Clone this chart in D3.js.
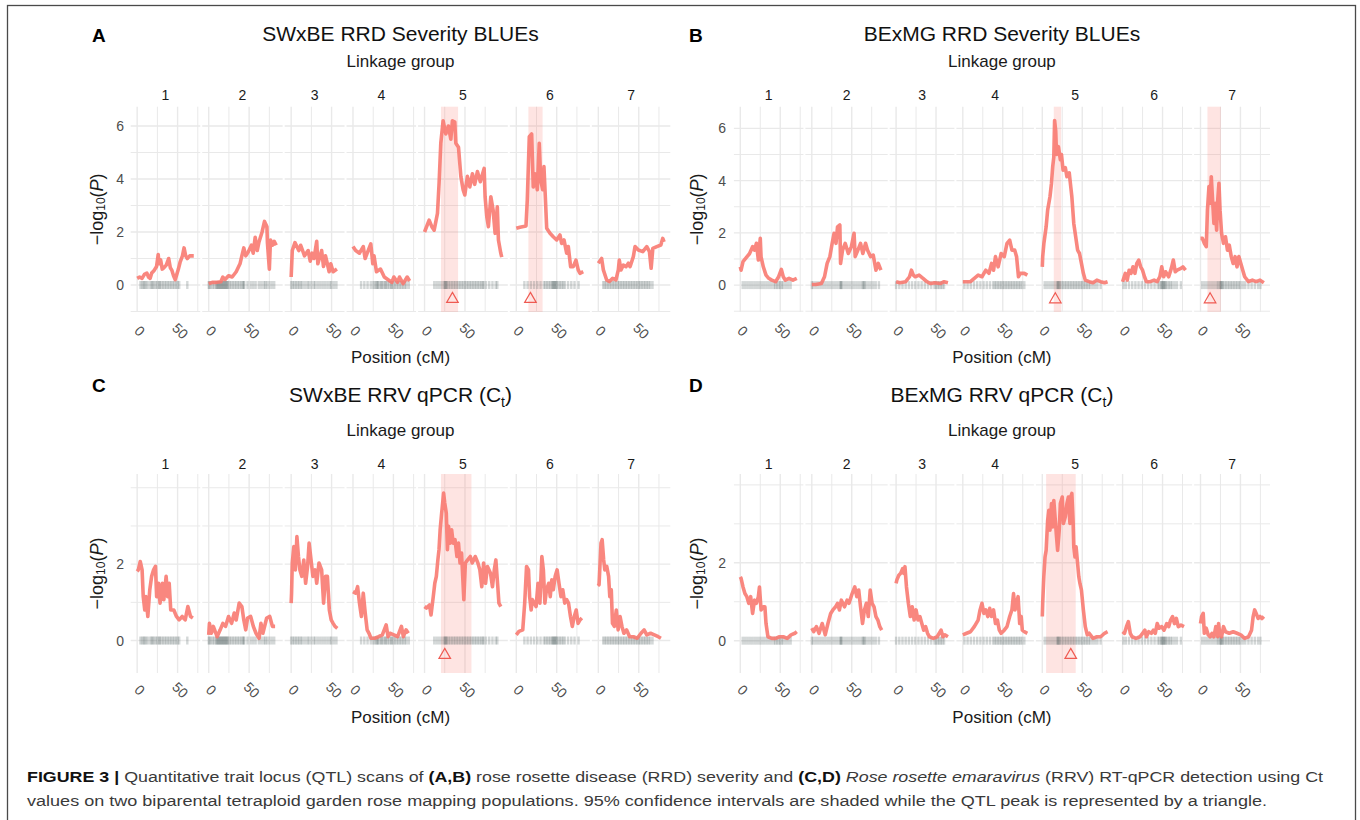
<!DOCTYPE html>
<html><head><meta charset="utf-8">
<script src="https://cdn.jsdelivr.net/npm/d3@7"></script>
<style>body{margin:0;background:#fff} svg{display:block;font-family:"Liberation Sans",Arial,sans-serif}</style>
</head><body><svg id="fig" width="1360" height="820"></svg>
<script>
// ---------------- DATA ----------------
const lgNames = ["1","2","3","4","5","6","7"];
const lenSWxBE = [70, 83.5, 58, 70, 95, 83, 81];
const lenBExMG = [71, 87, 65, 81, 82, 79, 79];
const xTickVals = [0, 50];

const markersSWxBE = [
 [4,6,8,9,11,13,16,18,19,21,23,25,27,28,30,32,34,36,38,40,42,44,46,48,50,52,62],
 [0,1,3,5,7,9,10,11,12,13,14,15,16,17,18,19,20,21,22,23,24,26,28,30,32,34,36,38,40,42,43,44,48,52,55,58,62,65,68,70,72,75,78,81],
 [0,2,4,6,8,10,12,14,17,20,22,25,28,30,33,36,39,42,45,48,50,53,56],
 [10,14,18,22,25,27,29,30,31,33,35,36,38,40,41,43,45,47,48,50,52,54,56,58,60,62,64,66,69],
 [12,15,18,21,24,25,26,27,28,30,32,34,36,38,40,42,44,46,48,50,52,54,56,58,60,62,64,66,68,70,72,73,76,80,84,88,90],
 [10,14,18,22,26,30,34,36,38,40,42,44,45,46,47,48,49,50,52,54,56,58,60,64,68,72,77],
 [6,8,10,12,14,16,18,20,22,24,26,28,30,32,34,36,38,40,42,44,46,48,50,52,54,56,58,60,62,64,67]
];
const markersBExMG = [
 [3,6,9,12,15,18,21,24,27,30,33,36,39,42,44,46,48,50,52,54,57,60,63],
 [0,2,5,8,11,14,17,20,23,26,29,32,35,36,37,38,41,44,47,50,53,56,59,62,64,65,66,68,71,74,77,80,84],
 [0,4,8,12,16,20,24,28,32,36,40,44,48,50,52,54,56,58,60],
 [2,6,10,14,18,22,26,30,34,38,40,42,44,46,48,50,52,54,56,58,60,62,64,66,68,70,72,74,77],
 [3,6,9,12,15,18,19,20,21,22,24,26,28,30,32,34,36,38,40,42,44,46,48,50,52,54,56,58,60,63,66,69,73],
 [1,4,8,12,16,20,24,28,32,36,40,44,46,48,49,50,51,52,53,54,56,58,60,62,65,68,73],
 [2,5,8,11,14,17,20,22,24,25,26,27,28,30,32,34,36,38,40,42,44,46,48,50,53,56,60,64,68,72,75]
];

// Panel A: SWxBE RRD severity
const scanApos = [
 [0,3,6,9,12,14,16,18,21,24,26,27,29,31,33,36,39,41,43,45,47,49,51,53,56,58,60,62,65,70],
 [0,5,10,15,17.5,20,24.5,29,34,38.7,41,43.4,45.8,49,52.8,55,57.5,60,62,66,69,72,72.6,75,76.4,78.8,81,83.5],
 [0,1.4,4.7,9.4,11.8,16.5,21,23.6,26,28.3,31.6,33,37.7,40,42.5,47,49,51.9,56.6],
 [0,3.3,8,12.7,15,22,24.5,26,29,34,38.7,43.4,48,50.5,55,57.5,62,67,70],
 [0,5.7,9,11.9,16,18,20.1,23,26.3,29.5,32.5,34.5,37.4,38.7,42,44.9,47.7,49.8,53,56,59.2,62,65.4,69,73.7,74.9,77,79,82,84.8,87.3,90,91.4,94.3,95.5],
 [0,4.6,12,13.6,16.1,19,21,23.1,26,28.4,30.2,32.6,34.2,35.9,37.6,41.7,45.7,49.9,54,56.1,59,62.3,64.3,67.2,70.5,73.8,76.6,78.7,82.8],
 [0,4.1,6.2,10.3,13.6,17.7,21.8,24.7,25.9,28,30.9,34.2,37.1,39.2,43.3,45.4,49.5,55,59.9,63.2,65.3,67.4,72.3,77.3,79.7,81.3]
];
const scanAval = [
 [0.25,0.3,0.25,0.4,0.45,0.3,0.25,0.45,0.55,0.7,1.15,0.8,0.95,0.6,0.65,0.75,1.0,0.65,0.55,0.35,0.2,0.4,0.6,0.85,1.1,1.4,1.1,1.0,1.1,1.1],
 [0.05,0.1,0.1,0.12,0.3,0.2,0.35,0.3,0.5,0.8,1.1,1.4,1.1,1.25,1.5,1.2,1.8,1.3,1.6,2.0,2.4,2.2,1.6,0.6,1.7,1.5,1.65,1.5],
 [0.3,1.3,1.6,1.3,1.5,1.1,1.3,0.9,1.2,1.0,1.65,0.8,1.3,0.7,1.1,0.5,0.8,0.5,0.6],
 [1.45,1.3,1.2,1.45,1.0,1.55,0.8,1.1,0.5,0.6,0.3,0.2,0.1,0.3,0.1,0.3,0.05,0.3,0.15],
 [2.0,2.45,2.2,2.07,2.7,3.84,5.35,6.2,5.7,6.0,5.5,6.2,6.15,5.35,5.2,4.1,3.6,3.4,4.1,3.7,4.2,3.8,4.28,3.9,4.4,3.33,2.58,2.2,3.33,2.83,1.95,2.95,1.7,1.2,1.05],
 [2.14,2.18,2.23,3.2,5.6,5.7,3.7,4.2,3.6,5.35,3.96,3.6,4.47,3.33,2.14,1.95,1.82,1.7,1.89,1.57,1.7,1.2,1.45,0.69,0.69,0.94,0.57,0.44,0.5],
 [0.82,1.0,0.57,0.19,0.13,0.25,0.19,0.57,0.94,0.57,0.75,0.69,0.82,0.69,1.07,1.45,1.32,1.26,1.45,1.26,0.63,1.38,1.45,1.51,1.76,1.63]
];
const ciA = [{lg:5, lo:20.3, hi:41.5, peak:34.5, peakY:-0.53}, {lg:6, lo:15, hi:32.5, peak:17.5, peakY:-0.53}];

// Panel B: BExMG RRD severity
const scanBpos = [
 [0,1,3.4,8.2,11.5,15.4,17.8,20.2,22.6,25,26,28.8,32.2,35.6,39.4,44.2,48,51.4,53.8,56.3,61,65.9,70.7],
 [0,4.8,12,15.9,19.2,22.6,25.5,27.9,30.3,32.2,35.1,36,38.5,41.8,45.7,49.5,52.9,54.3,57.7,61,63.9,67.3,69.7,73.6,76.9,80.3,83.2,86.5],
 [0,4.8,12,16.8,19.2,21.6,24,28.8,33.7,38.5,43.3,48,55.3,60,64.9],
 [0,9.6,14.4,19.2,24,28.8,32.7,36,38.5,40.9,44.2,48,51.9,55.3,58.7,61.5,64.9,67.3,69.7,72.1,76.9,80.8],
 [0,0.5,2,4.8,6.7,9.6,11.5,13,14.4,15.4,16.8,17.8,20.2,22.6,24,26,28.8,30.8,33.7,35.6,37,39.4,41.8,44.2,46.6,49,51.4,53.8,58.7,63.5,68.3,73,77.9,81.7],
 [0,3.4,5.8,8.2,10.6,13,15.4,17.8,20.2,22.6,25,27.4,29.8,34.6,39.4,43.3,46.6,49,51.4,53.8,57.7,61,63.5,65.9,68.3,73,75.5,78.8],
 [0,2.4,4.8,7.2,8.7,10.6,12,13.5,14.9,16.8,18.3,20.2,21.6,23.1,24.5,26.4,28.8,31.3,33.7,36,38.5,40.9,43.3,45.7,48,50.5,52.9,55.3,60.1,64.9,69.7,74.5,79.3]
];
const scanBval = [
 [0.7,0.57,0.9,1.08,1.2,1.47,1.34,1.6,0.96,1.79,1.08,0.7,0.38,0.26,0.19,0.13,0.32,0.6,0.32,0.19,0.26,0.19,0.26],
 [0.02,0.02,0.06,0.32,0.83,1.09,1.6,1.98,1.6,2.23,2.3,0.83,1.34,1.6,1.21,1.47,1.98,1.09,1.34,1.6,1.21,1.6,1.34,1.09,1.15,0.57,0.83,0.57],
 [0.13,0.09,0.13,0.32,0.57,0.38,0.32,0.38,0.26,0.13,0.06,0.09,0.06,0.13,0.09],
 [0.13,0.13,0.26,0.38,0.32,0.57,0.45,0.83,0.57,1.09,0.7,1.21,1.09,1.6,1.72,1.34,1.34,1.09,0.32,0.45,0.45,0.38],
 [0.7,1.09,1.6,2.23,2.87,3.38,3.9,4.53,4.9,6.3,5.9,5.0,5.3,4.8,5.0,4.4,4.5,4.15,4.3,3.77,3.38,2.36,1.85,1.34,1.21,0.83,0.45,0.19,0.13,0.09,0.19,0.13,0.09,0.13],
 [0.13,0.45,0.19,0.57,0.45,0.7,0.45,0.83,0.96,0.7,0.57,0.32,0.13,0.13,0.19,0.13,0.32,0.7,0.32,0.51,0.32,0.64,0.96,0.51,0.57,0.64,0.7,0.57],
 [1.79,1.79,1.6,1.47,2.87,3.77,3.13,4.15,3.38,2.36,3.13,2.1,3.26,3.9,2.87,1.98,1.6,1.85,1.34,1.53,1.09,0.83,1.09,0.7,1.09,0.83,0.57,0.32,0.13,0.19,0.13,0.19,0.09]
];
const ciB = [{lg:5, lo:14.4, hi:23.6, peak:16.3, peakY:-0.55}, {lg:7, lo:8.7, hi:25.5, peak:12, peakY:-0.55}];

// Panel C: SWxBE RRV qPCR (Ct)
const scanCpos = [
 [0,1.4,3.8,6.1,7.5,9.4,10.8,13.2,15.6,17.9,20.3,22.6,24.1,26.4,28.3,31.1,33,35.8,37.7,39.6,41.5,45.3,48.6,51.9,55.7,59.4,62.7,66,68.9],
 [0,0.9,3.3,5.7,10.4,14.2,17.5,20.8,24.5,28.3,31.6,34,37.7,41,43.4,45.8,48.1,51.9,55.2,58.5,62.3,64.6,67,71.7,75.5,78.8,82.1],
 [0,0.5,1.4,3.3,5.2,7.1,9,10.8,13.2,15.6,17.9,20.3,22.2,24.1,26.9,29.7,31.6,34.4,37.7,40.1,42.5,44.8,47.2,49.5,51.9,54.2,57.1],
 [0,3.3,5.7,8,10.4,12.7,15.1,17.5,19.8,22.2,26.9,31.6,36.3,41,43.4,45.8,50.5,55.2,59.9,62.3,65.6,68.4],
 [0,2.4,6.1,8,10.8,12.7,14.6,16.5,17.9,19.3,21.2,23.6,25,26.9,28.3,29.7,31.6,33.5,35.4,37.7,40.1,42,43.9,45.8,48.6,50.5,53.3,56.6,59,62.7,66,68.4,70.8,73.1,75.5,77.8,81.6,84,86.3,88.2,90.6,92,94.3],
 [0,3.3,8,10.4,12.7,15.1,16.5,18.4,19.8,22.2,24.5,26.9,29.2,31.6,33.5,35.4,37.3,40.1,42,43.9,45.8,48.1,50.5,52.8,55.2,57.5,59.9,62.3,64.6,67,69.3,71.7,74.1,76.4,78.8,81.1],
 [0,0.9,3.3,4.7,6.6,8,10.4,12.7,14.2,16,17.5,19.8,22.2,24.5,26.9,29.2,31.6,34.9,38.7,43.4,48.1,52.8,56.6,59.9,64.6,69.3,74.1,77.4]
];
const scanCval = [
 [1.81,1.85,2.07,1.85,1.15,0.8,1.15,0.63,1.33,1.68,1.85,1.94,1.15,1.5,0.98,1.5,1.07,1.68,1.15,1.5,0.8,0.8,0.63,0.54,0.63,0.54,0.89,0.63,0.59],
 [0.15,0.45,0.19,0.37,0.1,0.28,0.45,0.37,0.63,0.45,0.72,0.54,0.98,0.89,0.54,0.28,0.59,0.63,0.37,0.19,0.06,0.45,0.19,0.59,0.63,0.37,0.37],
 [0.98,1.24,2.03,2.46,1.85,2.72,2.2,1.85,1.68,2.11,1.5,1.94,2.55,2.2,1.68,1.85,1.5,2.03,1.85,0.98,1.68,1.68,0.8,0.54,0.45,0.37,0.32],
 [1.28,1.24,1.41,0.98,0.63,1.24,0.72,0.28,0.19,0.06,0.06,0.1,0.15,0.41,0.1,0.19,0.15,0.1,0.37,0.1,0.28,0.19],
 [0.89,0.85,0.93,0.67,1.15,1.5,1.68,2.11,2.38,2.9,3.34,3.86,3.6,3.34,2.38,2.99,2.55,2.9,2.55,2.64,2.2,2.55,2.03,2.29,1.07,2.03,2.11,2.2,2.03,2.2,2.03,1.85,1.41,2.03,1.5,1.94,1.76,1.41,1.85,2.11,1.41,0.98,0.89],
 [0.15,0.24,0.28,0.98,1.94,1.85,1.15,0.8,1.07,0.98,0.89,1.5,0.98,2.2,1.85,0.98,1.33,1.5,1.15,1.59,1.33,1.68,1.85,1.5,1.15,1.33,0.98,1.07,0.98,0.63,0.37,0.63,0.8,0.45,0.54,0.59],
 [1.5,1.46,2.55,2.64,2.11,1.85,1.94,1.68,1.15,1.33,0.45,0.37,0.8,0.28,0.63,0.37,0.19,0.28,0.1,0.1,0.06,0.19,0.28,0.15,0.19,0.15,0.1,0.06]
];
const ciC = [{lg:5, lo:20.3, hi:58, peak:25, peakY:-0.38}];

// Panel D: BExMG RRV qPCR (Ct)
const scanDpos = [
 [0,1,3.4,5.8,8.2,10.6,13,15.4,17.8,20.2,22.6,24,26,28.8,30.8,32.2,34.6,39.4,44.2,49,53.8,58.7,63.5,68.3,70.7],
 [0,2.4,5.8,9.1,13,16.8,20.2,23.6,26.4,29.8,32.2,34.6,37,40.9,44.2,46.6,50.5,53.8,56.3,58.7,61,63.5,65.9,68.3,70.7,73.1,75.5,77.9,80.3,82.7,85.1,87.5],
 [0,1,3.4,5.8,8.2,9.6,11.1,13,15.4,17.8,20.2,22.6,25,27.4,29.8,32.2,34.6,37,39.4,41.8,46.6,51.4,56.3,58.7,61,64.9],
 [0,4.8,9.6,14.4,19.2,21.6,24,26.4,28.8,31.3,33.7,36,38.5,40.9,43.3,45.7,48,51.9,55.3,58.7,61.5,63.5,65.4,67.3,69.2,71.2,73.1,74.5,76.9,80.8],
 [0,0.5,1.9,3.4,4.8,6.7,8.2,9.6,11.5,13,14.4,16.3,17.8,19.2,21.2,22.6,25,26.4,28.8,30.8,32.7,34.6,35.6,37,38.5,39.4,40.9,42.3,44.2,45.7,47.1,49,51.4,53.8,56.3,58.7,63.5,68.3,73.1,77.9,81.7],
 [0,2.4,4.8,7.2,9.6,12,16.8,21.6,25,27.9,29.8,32.7,36,38.5,40.9,43.3,45.7,49,51.9,55.3,57.7,60.1,62.5,64.9,67.3,69.7,73.1,76.9],
 [0,1.4,3.4,4.8,7.2,9.6,12,14.4,16.8,19.2,21.6,22.6,24,26.4,28.8,31.3,36,40.9,45.7,50.5,55.3,60.1,63.9,65.9,67.8,69.7,72.1,74.5,76.9,79.3]
];
const scanDval = [
 [1.64,1.6,1.38,1.21,1.13,0.96,1.13,0.7,1.04,0.96,1.13,1.38,0.79,0.87,0.87,0.44,0.1,0.06,0.06,0.1,0.1,0.06,0.15,0.19,0.23],
 [0.32,0.23,0.36,0.19,0.44,0.15,0.44,0.7,0.79,0.87,0.96,0.79,1.04,0.87,1.04,0.96,1.21,1.38,1.13,1.3,0.87,0.44,0.79,0.96,0.62,1.3,0.96,0.87,0.62,0.53,0.36,0.27],
 [1.47,1.56,1.68,1.73,1.85,1.73,1.9,1.38,0.96,0.62,0.87,0.53,0.79,0.53,0.62,0.44,0.27,0.36,0.19,0.1,0.06,0.1,0.27,0.1,0.15,0.1],
 [0.15,0.19,0.23,0.36,0.53,0.79,0.96,0.7,0.79,0.62,0.83,0.62,0.79,0.44,0.53,0.27,0.19,0.27,0.36,0.62,0.79,1.21,0.79,0.96,1.13,0.44,0.62,0.27,0.23,0.19],
 [0.62,0.96,1.64,2.15,2.32,3.09,3.35,2.84,3.52,2.92,3.6,3.09,2.67,2.32,2.84,3.52,3.69,3.01,3.18,3.52,3.69,3.01,3.69,3.78,3.09,2.41,2.15,2.41,1.98,1.64,1.47,1.3,0.79,0.36,0.15,0.19,0.06,0.1,0.1,0.19,0.23],
 [0.23,0.19,0.36,0.49,0.19,0.1,0.06,0.1,0.19,0.27,0.1,0.23,0.19,0.27,0.19,0.44,0.32,0.36,0.27,0.44,0.36,0.53,0.62,0.44,0.57,0.36,0.4,0.36],
 [0.44,0.62,0.7,0.19,0.32,0.15,0.1,0.19,0.1,0.36,0.1,0.44,0.19,0.1,0.36,0.23,0.19,0.23,0.19,0.15,0.06,0.1,0.27,0.62,0.79,0.7,0.57,0.62,0.57,0.62]
];
const ciD = [{lg:5, lo:4.8, hi:41.8, peak:35.6, peakY:-0.37}];

// ---------------- LAYOUT ----------------
const panels = [
 {letter:"A", title:["SWxBE RRD Severity BLUEs", null], pos:scanApos, val:scanAval, ci:ciA, lens:lenSWxBE, markers:markersSWxBE,
  left:130.7, right:670.3, top:106.7, bottom:312, yDomain:[-1.02,6.73], yTicks:[0,2,4,6], yGrid:[-1,0,1,2,3,4,5,6],
  letterX:92, letterY:41.7, titleY:40.5, lgY:67, stripY:100, tickY:331, xTitleY:362.5, yAxisX:124, yTitleX:97},
 {letter:"B", title:["BExMG RRD Severity BLUEs", null], pos:scanBpos, val:scanBval, ci:ciB, lens:lenBExMG, markers:markersBExMG,
  left:733.9, right:1270, top:106.7, bottom:312, yDomain:[-1.03,6.83], yTicks:[0,2,4,6], yGrid:[-1,0,1,2,3,4,5,6],
  letterX:689, letterY:41.7, titleY:40.5, lgY:67, stripY:100, tickY:331, xTitleY:362.5, yAxisX:726, yTitleX:697},
 {letter:"C", title:["SWxBE RRV qPCR (C", "t"], pos:scanCpos, val:scanCval, ci:ciC, lens:lenSWxBE, markers:markersSWxBE,
  left:130.7, right:670.3, top:474, bottom:673, yDomain:[-0.85,4.36], yTicks:[0,2], yGrid:[0,1,2,3,4],
  letterX:92, letterY:391.7, titleY:402.3, lgY:436, stripY:468.5, tickY:690, xTitleY:722.5, yAxisX:124, yTitleX:97},
 {letter:"D", title:["BExMG RRV qPCR (C", "t"], pos:scanDpos, val:scanDval, ci:ciD, lens:lenBExMG, markers:markersBExMG,
  left:733.9, right:1270, top:474, bottom:673, yDomain:[-0.83,4.28], yTicks:[0,2], yGrid:[0,1,2,3,4],
  letterX:689, letterY:391.7, titleY:402.3, lgY:436, stripY:468.5, tickY:690, xTitleY:722.5, yAxisX:726, yTitleX:697}
];

const EXP = 8, GAP = 2;
const LINE = "#F8766D";
const svg = d3.select("#fig");
svg.append("rect").attr("width",1360).attr("height",820).attr("fill","#fff");
svg.append("rect").attr("x",7.5).attr("y",5.5).attr("width",1348).attr("height",840)
  .attr("fill","none").attr("stroke","#4a4a4a").attr("stroke-width",1.3);

function drawPanel(p) {
  const g = svg.append("g");
  const total = d3.sum(p.lens, L => L + 2*EXP);
  const k = (p.right - p.left - GAP*(p.lens.length-1)) / total;
  let cur = p.left;
  const xs = p.lens.map(L => {
    const w = (L + 2*EXP) * k;
    const s = d3.scaleLinear().domain([-EXP, L + EXP]).range([cur, cur + w]);
    cur += w + GAP;
    return s;
  });
  const y = d3.scaleLinear().domain(p.yDomain).range([p.bottom, p.top]);
  const cx = (p.left + p.right) / 2;

  // grid
  xs.forEach(x => {
    const [x0, x1] = x.range();
    g.append("g").selectAll("line").data(p.yGrid).join("line")
      .attr("x1", x0).attr("x2", x1).attr("y1", d => y(d)).attr("y2", d => y(d))
      .attr("stroke", "#E9E9E9").attr("stroke-width", d => p.yTicks.includes(d) ? 1.4 : 1.0);
    const vb = [0,25,50,75].filter(v => v >= x.domain()[0] && v <= x.domain()[1]);
    g.append("g").selectAll("line").data(vb).join("line")
      .attr("x1", d => x(d)).attr("x2", d => x(d)).attr("y1", p.top).attr("y2", p.bottom)
      .attr("stroke", "#E9E9E9").attr("stroke-width", d => xTickVals.includes(d) ? 1.4 : 1.0);
  });

  // confidence intervals
  p.ci.forEach(c => {
    const x = xs[c.lg - 1];
    g.append("rect").attr("x", x(c.lo)).attr("width", x(c.hi) - x(c.lo))
      .attr("y", p.top).attr("height", p.bottom - p.top)
      .attr("fill", LINE).attr("fill-opacity", 0.2);
  });

  // marker rug
  xs.forEach((x, i) => {
    g.append("g").selectAll("line").data(p.markers[i]).join("line")
      .attr("x1", d => x(d)).attr("x2", d => x(d))
      .attr("y1", y(0) - 4).attr("y2", y(0) + 4)
      .attr("stroke", "#3d4f4f").attr("stroke-opacity", 0.22).attr("stroke-width", 2.4);
  });

  // scan lines
  xs.forEach((x, i) => {
    const pts = p.pos[i].map((v, j) => [v, p.val[i][j]]);
    const line = d3.line().x(d => x(d[0])).y(d => y(d[1]));
    g.append("path").attr("d", line(pts)).attr("fill", "none")
      .attr("stroke", LINE).attr("stroke-width", 3.6).attr("stroke-opacity", 0.88)
      .attr("stroke-linejoin", "round");
  });

  // peak triangles
  p.ci.forEach(c => {
    const x = xs[c.lg - 1];
    g.append("path").attr("d", d3.symbol(d3.symbolTriangle, 58)())
      .attr("transform", `translate(${x(c.peak)},${y(c.peakY)})`)
      .attr("fill", "none").attr("stroke", "#EF5A52").attr("stroke-width", 1.2);
  });

  // y axis labels
  const ya = g.append("g").attr("transform", `translate(${p.yAxisX},0)`)
    .call(d3.axisLeft(y).tickValues(p.yTicks).tickSize(0).tickPadding(0).tickFormat(d3.format("d")));
  ya.select(".domain").remove();
  ya.selectAll("text").attr("font-size", 14).attr("fill", "#4D4D4D")
    .attr("font-family", "Liberation Sans, Arial, sans-serif");

  // x axes per linkage group
  xs.forEach(x => {
    const vals = xTickVals.filter(v => v >= x.domain()[0] && v <= x.domain()[1]);
    const xa = g.append("g").attr("transform", `translate(2,${p.tickY})`)
      .call(d3.axisBottom(x).tickValues(vals).tickSize(0).tickFormat(d3.format("d")));
    xa.select(".domain").remove();
    xa.selectAll("text").attr("font-size", 14).attr("fill", "#4D4D4D")
      .attr("font-family", "Liberation Sans, Arial, sans-serif")
      .attr("y", 0).attr("x", 0).attr("dy", "0.35em").attr("text-anchor", "middle")
      .attr("transform", "rotate(45)");
  });

  // strip labels
  g.append("g").selectAll("text").data(xs).join("text")
    .attr("x", x => (x.range()[0] + x.range()[1]) / 2).attr("y", p.stripY)
    .attr("text-anchor", "middle").attr("font-size", 14).attr("fill", "#1A1A1A")
    .text((x, i) => lgNames[i]);

  // titles
  const t = g.append("text").attr("x", cx).attr("y", p.titleY).attr("text-anchor", "middle")
    .attr("font-size", 21).attr("fill", "#111");
  t.append("tspan").text(p.title[0]);
  if (p.title[1]) {
    t.append("tspan").attr("font-size", 14).attr("dy", 5).text(p.title[1]);
    t.append("tspan").attr("dy", -5).text(")");
  }
  g.append("text").attr("x", cx).attr("y", p.lgY).attr("text-anchor", "middle")
    .attr("font-size", 17).attr("fill", "#1A1A1A").text("Linkage group");
  g.append("text").attr("x", cx).attr("y", p.xTitleY).attr("text-anchor", "middle")
    .attr("font-size", 17).attr("fill", "#1A1A1A").text("Position (cM)");

  // y title
  const yt = g.append("text")
    .attr("transform", `translate(${p.yTitleX},${(p.top + p.bottom) / 2}) rotate(-90)`)
    .attr("text-anchor", "middle").attr("dominant-baseline", "central")
    .attr("font-size", 18).attr("fill", "#1A1A1A");
  yt.append("tspan").text("\u2212log");
  yt.append("tspan").attr("font-size", 12).attr("dy", 4).text("10");
  yt.append("tspan").attr("dy", -4).text("(");
  yt.append("tspan").attr("font-style", "italic").text("P");
  yt.append("tspan").text(")");

  // panel letter
  g.append("text").attr("x", p.letterX).attr("y", p.letterY).attr("font-size", 19)
    .attr("font-weight", "bold").attr("fill", "#000").text(p.letter);
}
panels.forEach(drawPanel);

// caption
const cap1 = [
 {t:"FIGURE 3 | ", b:true}, {t:"Quantitative trait locus (QTL) scans of "}, {t:"(A,B)", b:true},
 {t:" rose rosette disease (RRD) severity and "}, {t:"(C,D)", b:true}, {t:" "},
 {t:"Rose rosette emaravirus", i:true}, {t:" (RRV) RT-qPCR detection using Ct"}
];
const cap2 = [{t:"values on two biparental tetraploid garden rose mapping populations. 95% confidence intervals are shaded while the QTL peak is represented by a triangle."}];
function caption(parts, yy, len) {
  const t = svg.append("text").attr("x", 27).attr("y", yy).attr("font-size", 15.5)
    .attr("fill", "#3a3a3a").attr("textLength", len).attr("lengthAdjust", "spacingAndGlyphs");
  parts.forEach(p => {
    const s = t.append("tspan").text(p.t);
    if (p.b) s.attr("font-weight", "bold").attr("fill", "#111");
    if (p.i) s.attr("font-style", "italic");
  });
}
caption(cap1, 782, 1296);
caption(cap2, 806, 1240);
</script></body></html>
